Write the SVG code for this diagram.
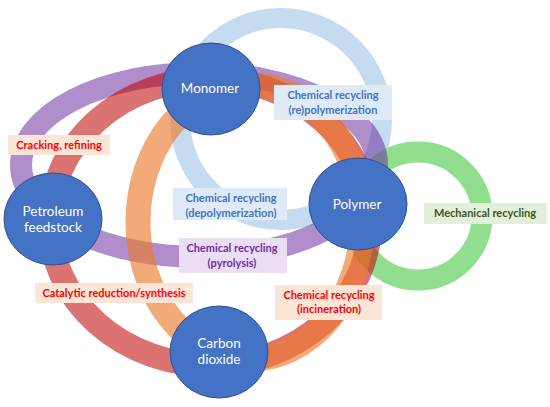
<svg xmlns="http://www.w3.org/2000/svg" width="550" height="407" viewBox="0 0 550 407">
<style>
.ring{fill:none}
.node{fill:#4472C4;stroke:#2F528F;stroke-width:1}
.nt{font-family:Lato,"Liberation Sans",sans-serif;font-size:13.5px;fill:#FFFFFF;text-anchor:middle}
.lt{font-family:Lato,"Liberation Sans",sans-serif;font-size:11px;font-weight:bold;text-anchor:middle}
.red{fill:#FF0000}
.blue{fill:#4472C4}
.purp{fill:#7030A0}
.green{fill:#375623}
.bx-peach{fill:#FBE5D6}
.bx-blue{fill:#DEEBF7}
.bx-purp{fill:#EBDDF3}
.bx-green{fill:#E2F0D9}
</style>
<rect width="550" height="407" fill="#FFFFFF"/>
<g id="connectors">
  <circle class="ring" cx="281" cy="119" r="101" stroke="#9DC3E6" stroke-opacity="0.6" stroke-width="20"/>
  <circle class="ring" cx="418" cy="216" r="64" stroke="#7ED87A" stroke-opacity="0.85" stroke-width="21"/>
  <ellipse class="ring" cx="199" cy="165" rx="178" ry="92" stroke="#7030A0" stroke-opacity="0.55" stroke-width="22"/>
  <ellipse class="ring" cx="210" cy="222" rx="160" ry="143" stroke="#C00000" stroke-opacity="0.55" stroke-width="24"/>
  <ellipse class="ring" cx="250" cy="222" rx="112" ry="137" stroke="#ED7D31" stroke-opacity="0.65" stroke-width="25"/>
</g>
<g id="labels">
  <g id="label-cracking">
    <rect class="bx-peach" x="8" y="135" width="102" height="20"/>
    <text class="lt red" x="59" y="149">Cracking, refining</text>
  </g>
  <g id="label-repolymerization">
    <rect class="bx-blue" x="274" y="85" width="118" height="35"/>
    <text class="lt blue" x="333" y="99">Chemical recycling</text>
    <text class="lt blue" x="333" y="114">(re)polymerization</text>
  </g>
  <g id="label-depolymerization">
    <rect class="bx-blue" x="173" y="188" width="114" height="32"/>
    <text class="lt blue" x="231" y="202">Chemical recycling</text>
    <text class="lt blue" x="231" y="217">(depolymerization)</text>
  </g>
  <g id="label-pyrolysis">
    <rect class="bx-purp" x="179" y="238" width="108" height="35"/>
    <text class="lt purp" x="232" y="252">Chemical recycling</text>
    <text class="lt purp" x="232" y="267">(pyrolysis)</text>
  </g>
  <g id="label-mechanical">
    <rect class="bx-green" x="424" y="203" width="123" height="21"/>
    <text class="lt green" x="485" y="217">Mechanical recycling</text>
  </g>
  <g id="label-catalytic">
    <rect class="bx-peach" x="35" y="283" width="158" height="20"/>
    <text class="lt red" x="114" y="297">Catalytic reduction/synthesis</text>
  </g>
  <g id="label-incineration">
    <rect class="bx-peach" x="275" y="285" width="107" height="35"/>
    <text class="lt red" x="329" y="299">Chemical recycling</text>
    <text class="lt red" x="329" y="313">(incineration)</text>
  </g>
</g>
<g id="node-monomer">
  <ellipse class="node" cx="211" cy="89" rx="49" ry="46"/>
  <text class="nt" x="210" y="93">Monomer</text>
</g>
<g id="node-petroleum">
  <ellipse class="node" cx="53" cy="219" rx="49" ry="46"/>
  <text class="nt" x="53" y="216">Petroleum</text>
  <text class="nt" x="53" y="232">feedstock</text>
</g>
<g id="node-polymer">
  <ellipse class="node" cx="358" cy="204" rx="49" ry="46"/>
  <text class="nt" x="357" y="209">Polymer</text>
</g>
<g id="node-co2">
  <ellipse class="node" cx="219" cy="352" rx="49" ry="46"/>
  <text class="nt" x="219" y="348">Carbon</text>
  <text class="nt" x="219" y="364">dioxide</text>
</g>
</svg>
